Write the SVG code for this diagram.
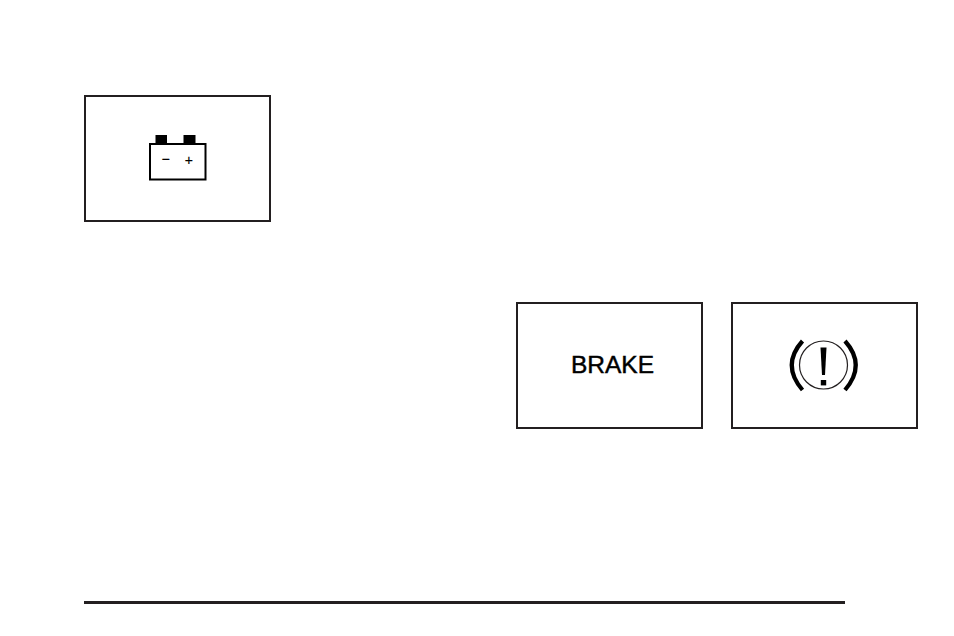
<svg xmlns="http://www.w3.org/2000/svg" width="954" height="636" viewBox="0 0 954 636">
<style>
.box{fill:#fff;stroke:#231f20;stroke-width:2}
.ink{fill:#000}
.lbl{font-family:"Liberation Sans",Arial,sans-serif;fill:#000;stroke:#000}
</style>
<rect width="954" height="636" fill="#fff"/>
<g id="battery">
<rect class="box" x="85" y="96" width="185" height="125"/>
<rect class="ink" x="155.5" y="135" width="11.5" height="9"/>
<rect class="ink" x="183.5" y="135" width="12" height="9"/>
<rect x="150" y="144" width="55.5" height="35.5" fill="#fff" stroke="#000" stroke-width="2"/>
<text class="lbl" x="165.5" y="164" font-size="14" stroke-width="0.2" text-anchor="middle">−</text>
<text class="lbl" x="188.8" y="164.5" font-size="14" stroke-width="0.2" text-anchor="middle">+</text>
</g>
<g id="brake-text">
<rect class="box" x="517" y="303" width="185" height="125"/>
<text class="lbl" x="612.5" y="373" font-size="24.5" stroke-width="0.45" text-anchor="middle">BRAKE</text>
</g>
<g id="brake-symbol">
<rect class="box" x="732" y="303" width="185" height="125"/>
<circle cx="823.5" cy="365" r="24" fill="none" stroke="#231f20" stroke-width="1.2"/>
<path d="M802.5 341Q781 365 802.5 390M845 341Q866.500 365 845 390" fill="none" stroke="#000" stroke-width="4.2"/>
<polygon class="ink" points="820.500,347.500 826.500,347.500 825,375 822,375"/>
<rect class="ink" x="820.800" y="380" width="5.400" height="5.400"/>
</g>
<rect id="footer-rule" x="84" y="601" width="761" height="3" fill="#231f20"/>
</svg>
